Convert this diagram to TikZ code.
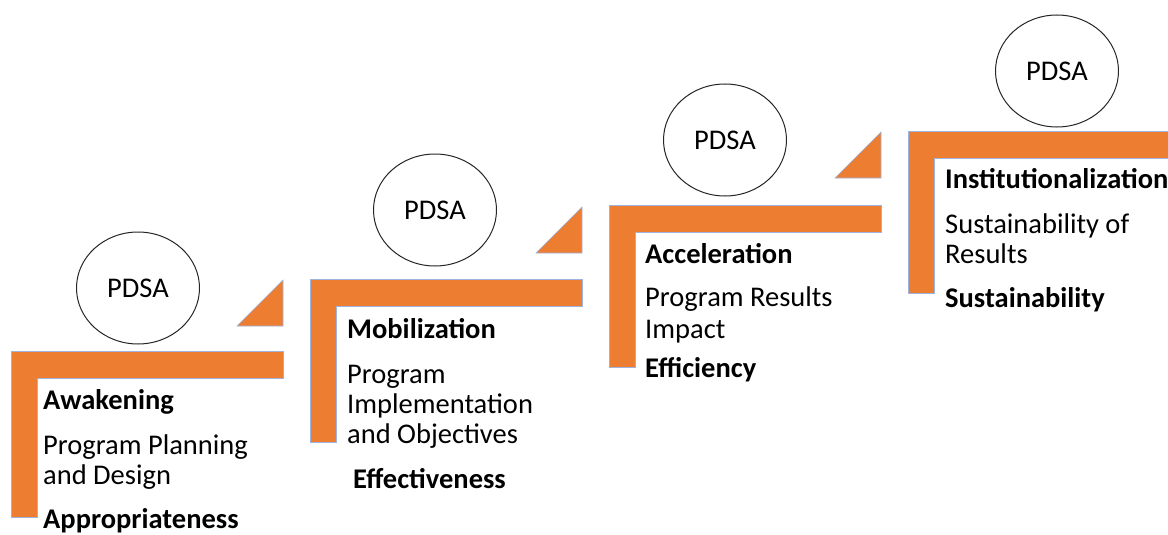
\documentclass[tikz,border=0pt]{standalone}
\usepackage{fontspec}
\setmainfont{Carlito}
\usetikzlibrary{shapes.geometric}
\definecolor{steporange}{HTML}{ED7D31}
\definecolor{stepedge}{HTML}{9DB3E0}
\tikzset{
	stepbar/.style={fill=steporange, draw=stepedge, line width=0.6pt},
	pdsa/.style={ellipse, draw=black!85, line width=1pt, minimum width=123pt, minimum height=112pt, inner sep=0pt, font=\fontsize{28.5}{30}\selectfont},
	steptext/.style={align=left, inner sep=0pt, anchor=base west, font=\fontsize{28.5}{30}\selectfont}
}

\begin{document}
\begin{tikzpicture}[x=1pt, y=-1pt]
			%%%%% START %%%%%
			\useasboundingbox (0, 0) rectangle (1168, 535);
			
			% step 1 (text node sits on its last line)
			\draw[stepbar] (11, 351) -- (283, 351) -- (283, 378) -- (37, 378) -- (37, 517) -- (11, 517) -- cycle;
			\draw[stepbar] (237, 326) -- (283, 280) -- (283, 326) -- cycle;
			\node[pdsa] (pdsa1) at (138, 288) {PDSA};
			\node[steptext] (awakening) at (43, 528) {\textbf{Awakening}\\[15pt] Program Planning\\ and Design\\[14pt] \textbf{Appropriateness}};
			
			% step 2
			\draw[stepbar] (310, 279) -- (582, 279) -- (582, 306) -- (336, 306) -- (336, 442) -- (310, 442) -- cycle;
			\draw[stepbar] (536, 253) -- (582, 207) -- (582, 253) -- cycle;
			\node[pdsa] (pdsa2) at (435, 210) {PDSA};
			\node[steptext] (mobilization) at (347, 488) {\textbf{Mobilization}\\[15pt] Program\\ Implementation\\ and Objectives\\[15pt] \hspace{6pt}\textbf{Effectiveness}};
			
			% step 3
			\draw[stepbar] (609, 205) -- (881, 205) -- (881, 232) -- (635, 232) -- (635, 367) -- (609, 367) -- cycle;
			\draw[stepbar] (835, 178) -- (881, 132) -- (881, 178) -- cycle;
			\node[pdsa] (pdsa3) at (725, 140) {PDSA};
			\node[steptext] (acceleration) at (645, 377) {\textbf{Acceleration}\\[13pt] Program Results\\[2pt] Impact\\[9pt] \textbf{Efficiency}};
			
			% step 4
			\draw[stepbar] (908, 131) -- (1172, 131) -- (1172, 158) -- (934, 158) -- (934, 293) -- (908, 293) -- cycle;
			\node[pdsa] (pdsa4) at (1057, 71) {PDSA};
			\node[steptext] (institution) at (945, 307) {\textbf{Institutionalization}\\[15pt] Sustainability of\\ Results\\[14pt] \textbf{Sustainability}};
			
			%%%%% END %%%%%
\end{tikzpicture}
\end{document}
